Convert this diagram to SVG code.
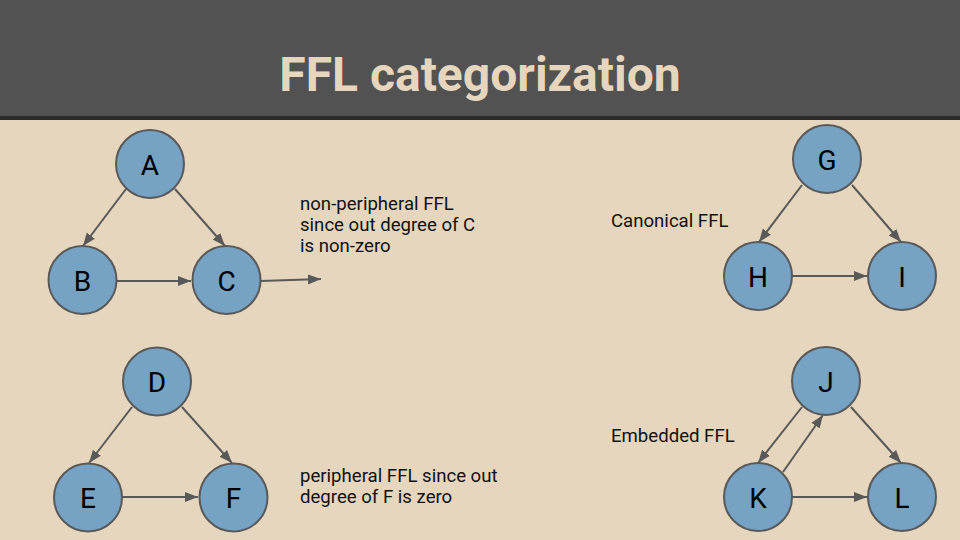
<svg xmlns="http://www.w3.org/2000/svg" width="960" height="540" viewBox="0 0 960 540">
<style>
.node circle{fill:#76a2c3;stroke:#595959;stroke-width:2}
.node text{font-family:Roboto,"Liberation Sans",sans-serif;font-size:28px;fill:#000;text-anchor:middle;dominant-baseline:central}
.edge{stroke:#595959;stroke-width:2;fill:none;marker-end:url(#arr)}
.note{font-family:Roboto,"Liberation Sans",sans-serif;font-size:18.6px;fill:#111}
</style>
<defs>
<marker id="arr" markerUnits="userSpaceOnUse" markerWidth="14" markerHeight="12" viewBox="0 0 14 12" refX="13" refY="6" orient="auto">
<path d="M0,1 L13,6 L0,11 Z" fill="#595959"/>
</marker>
</defs>
<rect width="960" height="540" fill="#e6d6bd"/>
<rect width="960" height="118" fill="#525252"/>
<rect y="116" width="960" height="4" fill="#2b2b2b"/>
<text x="480" y="91" font-family="Roboto,'Liberation Sans',sans-serif" font-weight="bold" font-size="48" fill="#e6d6bd" text-anchor="middle">FFL categorization</text>
<g id="connectors">
<line class="edge" x1="126" y1="189" x2="83" y2="246"/>
<line class="edge" x1="175" y1="189" x2="225" y2="246"/>
<line class="edge" x1="117" y1="281" x2="191" y2="281"/>
<line class="edge" x1="261" y1="281" x2="321" y2="279"/>
<line class="edge" x1="132" y1="407" x2="89" y2="463"/>
<line class="edge" x1="182" y1="407" x2="232" y2="463"/>
<line class="edge" x1="122" y1="497" x2="198" y2="497"/>
<line class="edge" x1="802" y1="185" x2="759" y2="242"/>
<line class="edge" x1="852" y1="185" x2="901" y2="242"/>
<line class="edge" x1="792" y1="276" x2="867" y2="276"/>
<line class="edge" x1="802" y1="407" x2="758" y2="463"/>
<line class="edge" x1="783" y1="472" x2="823" y2="415"/>
<line class="edge" x1="851" y1="407" x2="901" y2="463"/>
<line class="edge" x1="792" y1="497" x2="867" y2="497"/>
</g>
<g id="A" class="node"><circle cx="150" cy="164" r="34"/><text x="150" y="165">A</text></g>
<g id="B" class="node"><circle cx="82.5" cy="280" r="34"/><text x="82.5" y="281">B</text></g>
<g id="C" class="node"><circle cx="226.5" cy="280" r="34"/><text x="226.5" y="281">C</text></g>
<g id="D" class="node"><circle cx="157" cy="381.5" r="34"/><text x="157" y="382.5">D</text></g>
<g id="E" class="node"><circle cx="88" cy="497.5" r="34"/><text x="88" y="498.5">E</text></g>
<g id="F" class="node"><circle cx="233.5" cy="497.5" r="34"/><text x="233.5" y="498.5">F</text></g>
<g id="G" class="node"><circle cx="827" cy="159" r="34"/><text x="827" y="160">G</text></g>
<g id="H" class="node"><circle cx="758" cy="276" r="34"/><text x="758" y="277">H</text></g>
<g id="I" class="node"><circle cx="902" cy="276" r="34"/><text x="902" y="277">I</text></g>
<g id="J" class="node"><circle cx="826" cy="381" r="34"/><text x="826" y="382">J</text></g>
<g id="K" class="node"><circle cx="758" cy="497" r="34"/><text x="758" y="498">K</text></g>
<g id="L" class="node"><circle cx="902" cy="497" r="34"/><text x="902" y="498">L</text></g>
<g id="notes">
<text class="note" x="300" y="210">non-peripheral FFL</text>
<text class="note" x="300" y="231">since out degree of C</text>
<text class="note" x="300" y="252">is non-zero</text>
<text class="note" x="300" y="482">peripheral FFL since out</text>
<text class="note" x="300" y="503">degree of F is zero</text>
<text class="note" x="611" y="227">Canonical FFL</text>
<text class="note" x="611" y="442">Embedded FFL</text>
</g>
</svg>
